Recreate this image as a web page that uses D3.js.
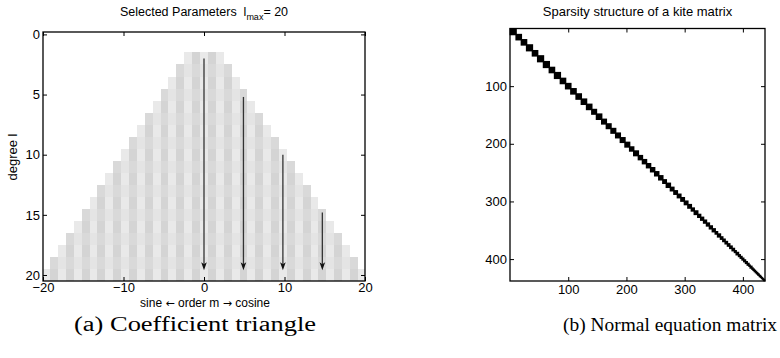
<!DOCTYPE html>
<html>
<head>
<meta charset="utf-8">
<script src="https://cdn.jsdelivr.net/npm/d3@7"></script>
<style>
  body { margin: 0; background: #fff; }
  svg { display: block; }
  text { font-family: "Liberation Sans", Arial, sans-serif; fill: #000; }
</style>
</head>
<body>
<svg id="fig" width="780" height="358"></svg>
<script>
// ---- data: coefficient triangle (a) ----
const degrees = [2, 3, 4, 5, 6, 7, 8, 9, 10, 11, 12, 13, 14, 15, 16, 17, 18, 19, 20];
const orders = [-20, -19, -18, -17, -16, -15, -14, -13, -12, -11, -10, -9, -8, -7, -6, -5, -4, -3, -2, -1,
  0, 1, 2, 3, 4, 5, 6, 7, 8, 9, 10, 11, 12, 13, 14, 15, 16, 17, 18, 19, 20];
const arrowOrder = [0, 4.9, 9.8, 14.7];
const arrowFrom = [2, 5.2, 10, 14.8];
const arrowTo = [19.6, 19.6, 19.6, 19.6];
const xTicksA = [-20, -10, 0, 10, 20];
const yTicksA = [0, 5, 10, 15, 20];

// ---- data: kite matrix (b), diagonal block sizes in storage order ----
const blockSizes = [
  10, 9,
  9, 10, 9, 10,
  10, 9, 10, 9,
  9, 9, 9, 9,
  9, 8, 9, 8,
  8, 8, 8, 8,
  8, 7, 8, 7,
  7, 7, 7, 7,
  7, 6, 7, 6,
  6, 6, 6, 6,
  6, 5, 6, 5,
  5, 5, 5, 5,
  5, 4, 5, 4,
  4, 4, 4, 4,
  4, 3, 4, 3,
  3, 3, 3, 3,
  3, 2, 3, 2,
  2, 2, 2, 2,
  2, 1, 2, 1,
  1, 1, 1, 1,
  1, 1
];
const ticksB = [100, 200, 300, 400];

const svg = d3.select("#fig");

// ================= panel (a) =================
const boxA = { left: 43, right: 365, top: 32, bottom: 281 };
const xA = d3.scaleLinear().domain([-20, 20]).range([boxA.left, boxA.right]);
const yA = d3.scaleLinear().domain([-0.2, 20.5]).range([boxA.top, boxA.bottom]);
const step = 0.98; // cell pitch of the image, in axis units

svg.append("clipPath").attr("id", "clipA")
  .append("rect")
  .attr("x", boxA.left).attr("y", boxA.top)
  .attr("width", boxA.right - boxA.left).attr("height", boxA.bottom - boxA.top);

const cells = [];
degrees.forEach(function (l) {
  orders.forEach(function (m) {
    if (Math.abs(m) <= l) cells.push({ l: l, m: m });
  });
});

function shade(d) {
  const mOdd = Math.abs(d.m) % 2 === 1;
  const lOdd = d.l % 2 === 1;
  if (!mOdd) return lOdd ? "#e4e4e4" : "#e9e9e9";
  return lOdd ? "#d9d9d9" : "#d4d4d4";
}

svg.append("g").attr("clip-path", "url(#clipA)")
  .selectAll("rect")
  .data(cells)
  .enter().append("rect")
  .attr("x", d => xA((d.m - 0.5) * step))
  .attr("width", d => xA((d.m + 0.5) * step) - xA((d.m - 0.5) * step))
  .attr("y", d => yA(d.l - 0.5))
  .attr("height", d => yA(d.l + 0.5) - yA(d.l - 0.5))
  .attr("fill", shade)
  .attr("shape-rendering", "crispEdges");

// arrows
const arrows = svg.append("g");
arrowOrder.forEach(function (m, i) {
  const x = xA(m);
  const y0 = yA(arrowFrom[i]);
  const y1 = yA(arrowTo[i]);
  arrows.append("line")
    .attr("x1", x).attr("x2", x)
    .attr("y1", y0).attr("y2", y1 - 4)
    .attr("stroke", "#333").attr("stroke-width", 1.3);
  arrows.append("path")
    .attr("d", "M" + x + "," + y1 + " L" + (x - 2.8) + "," + (y1 - 8) +
      " L" + x + "," + (y1 - 6) + " L" + (x + 2.8) + "," + (y1 - 8) + "Z")
    .attr("fill", "#111");
});

function styleAxis(g) {
  g.select(".domain").remove();
  g.selectAll("line").attr("stroke", "#000");
  g.selectAll("text").style("font-size", "13px").attr("fill", "#000");
}

svg.append("g").attr("transform", "translate(0," + boxA.bottom + ")")
  .call(d3.axisBottom(xA).tickValues(xTicksA).tickSizeInner(-4).tickSizeOuter(0).tickPadding(2))
  .call(styleAxis);
svg.append("g").attr("transform", "translate(0," + boxA.top + ")")
  .call(d3.axisTop(xA).tickValues(xTicksA).tickSizeInner(-4).tickSizeOuter(0).tickFormat(""))
  .call(styleAxis);
svg.append("g").attr("transform", "translate(" + boxA.left + ",0)")
  .call(d3.axisLeft(yA).tickValues(yTicksA).tickSizeInner(-4).tickSizeOuter(0).tickPadding(3))
  .call(styleAxis);
svg.append("g").attr("transform", "translate(" + boxA.right + ",0)")
  .call(d3.axisRight(yA).tickValues(yTicksA).tickSizeInner(-4).tickSizeOuter(0).tickFormat(""))
  .call(styleAxis);

svg.append("rect")
  .attr("x", boxA.left).attr("y", boxA.top)
  .attr("width", boxA.right - boxA.left).attr("height", boxA.bottom - boxA.top)
  .attr("fill", "none").attr("stroke", "#000").attr("stroke-width", 1.3);

const titleA = svg.append("text")
  .attr("x", 204).attr("y", 16)
  .attr("text-anchor", "middle")
  .style("font-size", "12.5px")
  .style("white-space", "pre");
titleA.append("tspan").text("Selected Parameters\u00a0\u00a0l");
titleA.append("tspan").attr("dy", 4).style("font-size", "9px").text("max");
titleA.append("tspan").attr("dy", -4).text("= 20");

svg.append("text")
  .attr("transform", "translate(17,157) rotate(-90)")
  .attr("text-anchor", "middle")
  .style("font-size", "13px")
  .text("degree l");

const xlabA = svg.append("text")
  .attr("x", 205).attr("y", 307)
  .attr("text-anchor", "middle")
  .style("font-size", "12px");
xlabA.append("tspan").text("sine ");
xlabA.append("tspan").style("font-family", "'DejaVu Sans', sans-serif").style("font-size", "11px").text("\u2190");
xlabA.append("tspan").text(" order m ");
xlabA.append("tspan").style("font-family", "'DejaVu Sans', sans-serif").style("font-size", "11px").text("\u2192");
xlabA.append("tspan").text(" cosine");

// ================= panel (b) =================
const boxB = { left: 510, right: 765, top: 28.5, bottom: 281 };
const xB = d3.scaleLinear().domain([0, 438]).range([boxB.left, boxB.right]);
const yB = d3.scaleLinear().domain([0, 438]).range([boxB.top, boxB.bottom]);

let start = 0;
const blocks = blockSizes.map(function (k) {
  const b = { start: start, size: k };
  start += k;
  return b;
});

svg.append("g")
  .selectAll("rect")
  .data(blocks)
  .enter().append("rect")
  .attr("x", d => xB(d.start + 1) - 1)
  .attr("y", d => yB(d.start + 1) - 1)
  .attr("width", d => xB(d.start + d.size) - xB(d.start + 1) + 2)
  .attr("height", d => yB(d.start + d.size) - yB(d.start + 1) + 2)
  .attr("fill", "#000");

svg.append("g").attr("transform", "translate(0," + boxB.bottom + ")")
  .call(d3.axisBottom(xB).tickValues(ticksB).tickSizeInner(-4).tickSizeOuter(0).tickPadding(4))
  .call(styleAxis);
svg.append("g").attr("transform", "translate(0," + boxB.top + ")")
  .call(d3.axisTop(xB).tickValues(ticksB).tickSizeInner(-4).tickSizeOuter(0).tickFormat(""))
  .call(styleAxis);
svg.append("g").attr("transform", "translate(" + boxB.left + ",0)")
  .call(d3.axisLeft(yB).tickValues(ticksB).tickSizeInner(-4).tickSizeOuter(0).tickPadding(3))
  .call(styleAxis);
svg.append("g").attr("transform", "translate(" + boxB.right + ",0)")
  .call(d3.axisRight(yB).tickValues(ticksB).tickSizeInner(-4).tickSizeOuter(0).tickFormat(""))
  .call(styleAxis);

svg.append("rect")
  .attr("x", boxB.left).attr("y", boxB.top)
  .attr("width", boxB.right - boxB.left).attr("height", boxB.bottom - boxB.top)
  .attr("fill", "none").attr("stroke", "#000").attr("stroke-width", 1.3);

svg.append("text")
  .attr("x", 637.5).attr("y", 16)
  .attr("text-anchor", "middle")
  .style("font-size", "13px")
  .text("Sparsity structure of a kite matrix");

// ================= captions =================
svg.append("text")
  .attr("x", 74).attr("y", 331)
  .attr("textLength", 242).attr("lengthAdjust", "spacingAndGlyphs")
  .style("font-family", "'Liberation Serif', 'DejaVu Serif', serif")
  .style("font-size", "20px")
  .text("(a) Coefficient triangle");

svg.append("text")
  .attr("x", 563).attr("y", 331)
  .attr("textLength", 214).attr("lengthAdjust", "spacingAndGlyphs")
  .style("font-family", "'Liberation Serif', 'DejaVu Serif', serif")
  .style("font-size", "18px")
  .text("(b) Normal equation matrix");
</script>
</body>
</html>
